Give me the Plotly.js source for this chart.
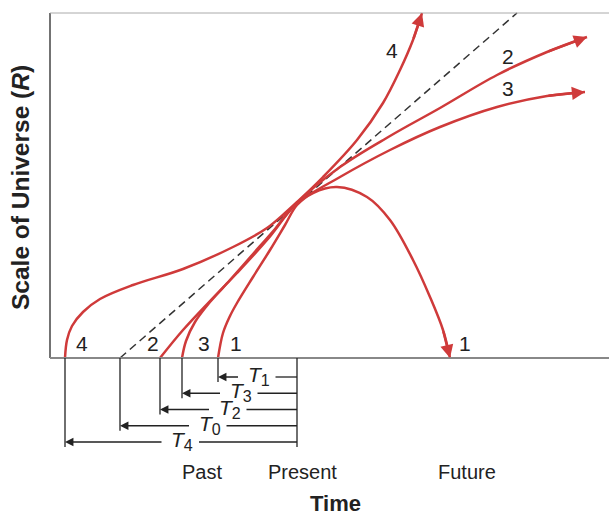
<!DOCTYPE html>
<html><head><meta charset="utf-8">
<script src="https://cdn.plot.ly/plotly-3.0.1.min.js"></script>
<style>html,body{margin:0;padding:0;background:#fff}</style>
</head><body><div id="chart" style="width:609px;height:516px"></div>
<script>
// Time t (arbitrary units, Present = 0) and scale of universe R (arbitrary units)
const curve1T = [-79,-74,-67,-60,-44,-27,-12,0,16,40,70,93,116,133,146,153];
const curve1R = [0,25,42,55,81,108,133,153,165,171,161,138,98,61,28,0];
const curve2T = [-137,-114,-87,-60,-30,-1,43,93,143,200,250,290];
const curve2R = [0,28,57,85,118,154,191,222,250,283,306,321];
const curve3T = [-115,-111,-102,-87,-67,-44,-22,-1,43,93,143,200,250,288];
const curve3R = [0,17,36,56,78,104,129,154,181,208,231,251,262,266];
const curve4T = [-232,-230,-225,-214,-197,-164,-114,-64,-30,-12,-1,26,60,86,103,116,125];
const curve4R = [0,18,32,46,59,73,89,111,130,145,155,181,218,255,288,318,345];
const dashT = [-177, 220];
const dashR = [0, 345];

// Look-back times (subscripts) and which curve each belongs to
const tNames = ['1','3','2','0','4'];
const tStart = [curve1T[0], curve3T[0], curve2T[0], dashT[0], curve4T[0]];

// Curve number labels
const curveLabels = ['4','2','3','1','1','4','2','3'];
const curveLabelT = [-215,-144,-93,-61,168,95,211,211];
const curveLabelR = [13,13,13,13,13,306,300,268];

// Time axis labels
const timeLabels = ['Past','Present','Future'];
const timeLabelT = [-95, 5, 170];

const RED = '#cf3a3a';
const INK = '#222';
const FONT = '"Liberation Sans", Arial, sans-serif';
const AX_LEFT = -247, AX_RIGHT = 312, AX_TOP = 345;
const LEVEL0 = -19, LEVEL_STEP = 16.25, HALF_GAP = 18, TICK_EXT = 5;

const traces = [];
traces.push({x: dashT, y: dashR, mode: 'lines', hoverinfo: 'skip',
  line: {color: '#333', width: 1.5, dash: '8px,5px'}});
const curves = [[curve4T, curve4R],[curve2T, curve2R],[curve3T, curve3R],[curve1T, curve1R]];
curves.forEach(([t, r]) => traces.push({x: t, y: r, mode: 'lines', hoverinfo: 'skip',
  line: {color: RED, width: 2.5, shape: 'spline', smoothing: 1}}));

const shapes = [];
const annotations = [];
// frame
shapes.push({type:'line', x0:AX_LEFT, x1:AX_LEFT, y0:0, y1:AX_TOP, xref:'x', yref:'y', line:{color:'#444', width:1.5}});
shapes.push({type:'line', x0:AX_LEFT, x1:AX_RIGHT, y0:AX_TOP, y1:AX_TOP, xref:'x', yref:'y', line:{color:'#aaa', width:1}});
shapes.push({type:'line', x0:AX_LEFT, x1:AX_RIGHT, y0:0, y1:0, xref:'x', yref:'y', line:{color:'#888', width:2}});

// arrowheads on the curves
curves.forEach(([t, r]) => {
  const n = t.length;
  annotations.push({x: t[n-1], y: r[n-1], ax: t[n-2], ay: r[n-2], axref:'x', ayref:'y', xref:'x', yref:'y',
    text:'', showarrow:true, arrowhead:2, arrowsize:1.05, arrowwidth:2.5, arrowcolor:RED, standoff:0});
});

// look-back time brackets
const lastLevel = LEVEL0 - LEVEL_STEP*(tStart.length-1);
shapes.push({type:'line', x0:0, x1:0, y0:0, y1:lastLevel - TICK_EXT, xref:'x', yref:'y', line:{color:INK, width:1.3}});
tStart.forEach((s, i) => {
  const lvl = LEVEL0 - LEVEL_STEP*i;
  const mid = s/2;
  shapes.push({type:'line', x0:s, x1:s, y0:0, y1:lvl - TICK_EXT, xref:'x', yref:'y', line:{color:INK, width:1.3}});
  shapes.push({type:'line', x0:0, x1:mid + HALF_GAP, y0:lvl, y1:lvl, xref:'x', yref:'y', line:{color:INK, width:1.3}});
  annotations.push({x: s, y: lvl, ax: mid - HALF_GAP, ay: lvl, axref:'x', ayref:'y', xref:'x', yref:'y',
    text:'', showarrow:true, arrowhead:2, arrowsize:1.3, arrowwidth:1.3, arrowcolor:INK, standoff:0});
  annotations.push({x: mid + 1, y: lvl, xref:'x', yref:'y', showarrow:false, yshift:1,
    text:'<i>T</i><sub><span style="font-size:16px">' + tNames[i] + '</span></sub>',
    font:{family:FONT, size:21, color:INK}});
});

curveLabels.forEach((l, i) => annotations.push({x: curveLabelT[i], y: curveLabelR[i], xref:'x', yref:'y',
  showarrow:false, yshift:2, text:l, font:{family:FONT, size:21, color:INK}}));

timeLabels.forEach((l, i) => annotations.push({x: timeLabelT[i], y: -114, xref:'x', yref:'y',
  showarrow:false, text:l, font:{family:FONT, size:20, color:INK}}));

annotations.push({x: 38, y: -145, xref:'x', yref:'y', showarrow:false, text:'<b>Time</b>',
  font:{family:FONT, size:22, color:INK}});
annotations.push({x: -277, y: 170, xref:'x', yref:'y', showarrow:false, textangle:-90,
  text:'<b>Scale of Universe (<i>R</i>)</b>', font:{family:FONT, size:24.5, color:INK}});

const layout = {
  width: 609, height: 516, margin:{l:0, r:0, t:0, b:0},
  paper_bgcolor:'#fff', plot_bgcolor:'#fff', showlegend:false,
  xaxis:{range:[-297, 312], visible:false, fixedrange:true},
  yaxis:{range:[-158, 358], visible:false, fixedrange:true},
  shapes: shapes, annotations: annotations,
  font:{family:FONT}
};
Plotly.newPlot('chart', traces, layout, {displayModeBar:false, staticPlot:true});
</script></body></html>
